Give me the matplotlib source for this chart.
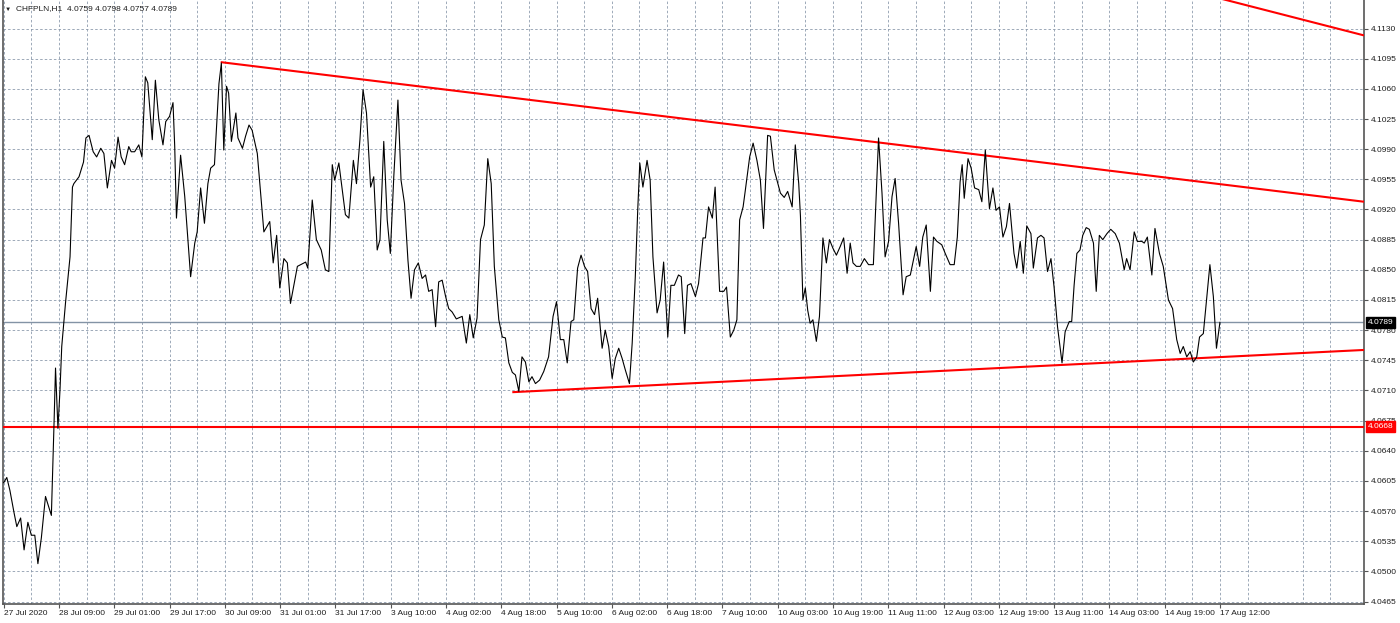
import matplotlib
matplotlib.use("Agg")
import matplotlib.pyplot as plt
import matplotlib.transforms as mtransforms

plt.rcParams["font.family"] = ["Liberation Sans", "DejaVu Sans"]

symbol = "CHFPLN,H1"
last_ohlc = [4.0759, 4.0798, 4.0757, 4.0789]

# bar index (H1 bars from 27 Jul 17:00) and close price
bars = [
    0.0, 0.9, 1.8, 3.0, 3.8, 4.9, 5.9, 7.0, 8.0, 9.0,
    9.9, 10.9, 12.1, 13.8, 14.6, 15.0, 15.7, 16.3, 16.8, 17.9,
    19.2, 19.9, 20.3, 21.8, 23.1, 23.8, 24.7, 25.9, 26.9, 28.1,
    29.0, 30.0, 31.2, 32.1, 33.1, 34.0, 35.0, 36.2, 36.9, 37.9,
    39.1, 40.0, 41.0, 41.7, 43.0, 43.9, 44.9, 46.1, 46.9, 48.0,
    49.0, 49.5, 50.0, 51.2, 52.4, 54.1, 55.3, 56.0, 57.0, 58.1,
    59.1, 59.9, 61.0, 62.3, 63.0, 63.7, 64.5, 65.1, 65.9, 67.2,
    67.8, 69.1, 70.0, 71.0, 71.9, 73.4, 75.3, 77.0, 78.0, 79.0,
    79.9, 81.1, 82.1, 83.0, 85.0, 87.4, 88.0, 89.3, 90.5, 91.9,
    93.1, 94.1, 95.1, 95.8, 97.0, 98.9, 99.9, 101.2, 102.1, 103.1,
    104.0, 105.0, 106.2, 107.1, 108.1, 108.9, 110.0, 111.0, 111.9, 112.9,
    114.1, 115.0, 116.0, 117.0, 117.9, 118.9, 120.0, 121.1, 122.1, 123.0,
    124.0, 125.0, 125.9, 126.9, 127.9, 128.8, 129.8, 131.0, 132.7, 133.9,
    134.9, 135.9, 137.0, 138.0, 139.1, 140.1, 141.1, 142.0, 143.3, 144.3,
    145.2, 146.2, 147.2, 148.1, 149.1, 150.0, 151.0, 152.0, 152.9, 153.9,
    155.1, 156.3, 157.7, 159.0, 160.0, 161.1, 162.1, 163.1, 164.2, 165.0,
    166.1, 167.1, 168.1, 169.0, 170.0, 171.0, 171.9, 173.2, 174.1, 175.1,
    176.1, 177.0, 178.0, 179.0, 179.9, 181.1, 181.9, 182.8, 183.5, 184.1,
    185.0, 186.2, 187.1, 187.9, 189.1, 190.0, 191.0, 192.2, 193.1, 194.1,
    195.3, 196.1, 197.1, 197.9, 198.9, 200.2, 201.1, 202.4, 203.1, 204.0,
    205.1, 205.9, 207.2, 208.4, 209.2, 210.3, 211.3, 212.2, 213.0, 214.0,
    214.6, 215.9, 216.9, 218.0, 219.0, 219.9, 221.1, 221.9, 223.0, 224.8,
    225.9, 226.9, 228.2, 229.1, 230.1, 230.6, 231.3, 232.0, 232.7, 233.4,
    234.2, 235.2, 236.1, 237.1, 238.1, 239.0, 240.0, 241.0, 242.1, 243.1,
    244.1, 245.0, 245.8, 246.8, 247.9, 249.1, 250.3, 251.7, 253.2, 254.2,
    255.1, 256.1, 257.1, 258.0, 259.0, 260.3, 261.2, 262.4, 264.1, 265.1,
    266.0, 267.0, 268.2, 269.1, 270.1, 271.5, 272.5, 273.9, 275.1, 276.0,
    276.8, 277.4, 278.0, 279.1, 280.0, 281.0, 282.2, 283.1, 284.1, 284.7,
    285.3, 286.3, 287.2, 288.2, 289.2, 290.2, 291.1, 291.8, 292.4, 293.2,
    294.2, 295.1, 296.1, 297.3, 298.0, 299.2, 300.2, 301.1, 302.1, 303.1,
    304.0, 305.0, 306.3, 307.2, 308.4, 309.1, 309.8, 310.6, 311.5, 312.3,
    313.3, 314.2, 315.4, 316.2, 317.1, 318.1, 319.3, 320.4, 321.7, 322.9,
    324.3, 325.0, 326.0, 327.2, 328.1, 329.4, 330.1, 331.0, 332.3, 333.2,
    334.5, 335.6, 337.1, 338.3, 339.5, 340.5, 341.4, 342.4, 343.4, 344.3,
    345.3, 346.1, 347.2, 349.1, 350.1, 351.0, 352.0,
]
closes = [
    4.0603, 4.0609, 4.0594, 4.0568, 4.0552, 4.0562, 4.0525, 4.0557, 4.0542, 4.0542,
    4.0509, 4.0539, 4.0587, 4.0565, 4.0676, 4.0736, 4.0666, 4.0711, 4.0761, 4.0812,
    4.0865, 4.0946, 4.0950, 4.0958, 4.0975, 4.1003, 4.1006, 4.0987, 4.0981, 4.0991,
    4.0985, 4.0945, 4.0977, 4.0968, 4.1004, 4.0981, 4.0972, 4.0993, 4.0987, 4.0987,
    4.0995, 4.0981, 4.1074, 4.1067, 4.1001, 4.1070, 4.1024, 4.0995, 4.1022, 4.1028,
    4.1044, 4.0993, 4.0910, 4.0983, 4.0935, 4.0842, 4.0881, 4.0894, 4.0945, 4.0904,
    4.0950, 4.0968, 4.0972, 4.1066, 4.1090, 4.0989, 4.1063, 4.1055, 4.0999, 4.1032,
    4.1003, 4.0991, 4.1005, 4.1018, 4.1012, 4.0985, 4.0894, 4.0906, 4.0858, 4.0890,
    4.0829, 4.0863, 4.0858, 4.0811, 4.0854, 4.0859, 4.0852, 4.0931, 4.0885, 4.0873,
    4.0850, 4.0848, 4.0972, 4.0954, 4.0974, 4.0914, 4.0910, 4.0977, 4.0950, 4.1001,
    4.1059, 4.1032, 4.0946, 4.0958, 4.0873, 4.0885, 4.0999, 4.0908, 4.0869, 4.0958,
    4.1047, 4.0954, 4.0927, 4.0861, 4.0817, 4.0850, 4.0858, 4.0840, 4.0844, 4.0825,
    4.0827, 4.0784, 4.0836, 4.0838, 4.0819, 4.0805, 4.0801, 4.0793, 4.0796, 4.0765,
    4.0798, 4.0771, 4.0794, 4.0885, 4.0902, 4.0979, 4.0950, 4.0854, 4.0792, 4.0772,
    4.0771, 4.0742, 4.0731, 4.0728, 4.0709, 4.0749, 4.0743, 4.0720, 4.0726, 4.0718,
    4.0722, 4.0732, 4.0749, 4.0796, 4.0813, 4.0769, 4.0769, 4.0742, 4.0790, 4.0792,
    4.0852, 4.0867, 4.0854, 4.0848, 4.0805, 4.0798, 4.0817, 4.0759, 4.0780, 4.0761,
    4.0724, 4.0747, 4.0759, 4.0747, 4.0734, 4.0718, 4.0765, 4.0842, 4.0919, 4.0974,
    4.0946, 4.0977, 4.0954, 4.0865, 4.0800, 4.0815, 4.0859, 4.0772, 4.0832, 4.0832,
    4.0844, 4.0842, 4.0776, 4.0832, 4.0834, 4.0819, 4.0834, 4.0887, 4.0887, 4.0923,
    4.0910, 4.0946, 4.0825, 4.0825, 4.0830, 4.0772, 4.0780, 4.0792, 4.0908, 4.0923,
    4.0941, 4.0981, 4.0997, 4.0977, 4.0954, 4.0898, 4.1006, 4.1005, 4.0966, 4.0939,
    4.0934, 4.0941, 4.0923, 4.0995, 4.0950, 4.0912, 4.0815, 4.0829, 4.0803, 4.0788,
    4.0792, 4.0767, 4.0796, 4.0887, 4.0858, 4.0885, 4.0875, 4.0867, 4.0877, 4.0887,
    4.0846, 4.0881, 4.0858, 4.0854, 4.0854, 4.0863, 4.0856, 4.0856, 4.1003, 4.0939,
    4.0865, 4.0883, 4.0935, 4.0956, 4.0904, 4.0821, 4.0842, 4.0844, 4.0877, 4.0854,
    4.0888, 4.0902, 4.0825, 4.0888, 4.0883, 4.0879, 4.0869, 4.0856, 4.0856, 4.0888,
    4.0952, 4.0972, 4.0933, 4.0979, 4.0968, 4.0945, 4.0943, 4.0929, 4.0989, 4.0954,
    4.0921, 4.0945, 4.0919, 4.0923, 4.0888, 4.0900, 4.0927, 4.0896, 4.0869, 4.0852,
    4.0883, 4.0846, 4.0901, 4.0892, 4.0852, 4.0887, 4.0890, 4.0887, 4.0848, 4.0863,
    4.0830, 4.0784, 4.0742, 4.0778, 4.0790, 4.0790, 4.0832, 4.0869, 4.0873, 4.0890,
    4.0899, 4.0897, 4.0881, 4.0825, 4.0890, 4.0885, 4.0892, 4.0897, 4.0892, 4.0881,
    4.0850, 4.0863, 4.0850, 4.0894, 4.0883, 4.0883, 4.0881, 4.0888, 4.0844, 4.0898,
    4.0869, 4.0854, 4.0815, 4.0805, 4.0769, 4.0753, 4.0761, 4.0749, 4.0755, 4.0743,
    4.0749, 4.0772, 4.0776, 4.0856, 4.0819, 4.0759, 4.0789,
]

time_labels = [
    "27 Jul 2020", "28 Jul 09:00", "29 Jul 01:00", "29 Jul 17:00", "30 Jul 09:00",
    "31 Jul 01:00", "31 Jul 17:00", "3 Aug 10:00", "4 Aug 02:00", "4 Aug 18:00",
    "5 Aug 10:00", "6 Aug 02:00", "6 Aug 18:00", "7 Aug 10:00", "10 Aug 03:00",
    "10 Aug 19:00", "11 Aug 11:00", "12 Aug 03:00", "12 Aug 19:00", "13 Aug 11:00",
    "14 Aug 03:00", "14 Aug 19:00", "17 Aug 12:00",
]
bars_per_label = 16

price_labels = [
    "4.1130", "4.1095", "4.1060", "4.1025", "4.0990", "4.0955", "4.0920",
    "4.0885", "4.0850", "4.0815", "4.0780", "4.0745", "4.0710", "4.0675",
    "4.0640", "4.0605", "4.0570", "4.0535", "4.0500", "4.0465",
]

# trend lines: (bar, price) anchors
upper_trend = [(62.8, 4.1091), (393.7, 4.0929)]
lower_trend = [(147.2, 4.0708), (393.7, 4.0757)]
outer_trend = [(350.0, 4.1167), (393.7, 4.1122)]
support_level = 4.0668

grid_col = "#8d9bad"
fs = 6.0

fig = plt.figure(figsize=(14, 6.23), dpi=100)
ax = fig.add_axes([3 / 1400, 19 / 623, 1361 / 1400, 604 / 623])
ax.set_xlim(-0.2, 393.7)
ax.set_ylim(4.04622, 4.11631)

# grid
xt = [i * bars_per_label for i in range(len(time_labels))]
ax.set_xticks(xt)
ax.set_xticklabels(time_labels)
ax.set_xticks([t + bars_per_label / 2 for t in xt] + [xt[-1] + 24, xt[-1] + 32], minor=True)
yt = [float(p) for p in price_labels]
ax.set_yticks(yt)
ax.set_yticklabels(price_labels)
ax.grid(True, which="both", color=grid_col, linestyle=(0, (3, 2.5)), linewidth=0.6)
ax.set_axisbelow(True)

ax.yaxis.tick_right()
ax.tick_params(axis="y", which="major", length=3, width=0.8, pad=2,
               labelsize=fs, color="#555555", labelcolor="#1e1e1e")
ax.tick_params(axis="x", which="major", length=3, width=0.8, pad=1.5,
               labelsize=fs, color="#555555", labelcolor="#1e1e1e")
ax.tick_params(axis="x", which="minor", length=0)
for lab in ax.get_xticklabels():
    lab.set_horizontalalignment("left")

for side in ["left", "right", "bottom"]:
    ax.spines[side].set_color("#555555")
    ax.spines[side].set_linewidth(1.2)
ax.spines["top"].set_visible(False)

# bid line and support level
ax.axhline(closes[-1], color="#8393a5", linewidth=1.0, zorder=2)
ax.axhline(support_level, color="#ff0000", linewidth=1.5, zorder=3)

# trend lines
for line in [upper_trend, lower_trend, outer_trend]:
    ax.plot([line[0][0], line[1][0]], [line[0][1], line[1][1]],
            color="#ff0000", linewidth=1.5, zorder=3, solid_capstyle="butt")

# price line
ax.plot(bars, closes, color="black", linewidth=0.8, zorder=4)

# price labels on axis
tr = mtransforms.blended_transform_factory(ax.transAxes, ax.transData)
ax.text(1.0 + 4 / 1361, closes[-1], "%.4f" % closes[-1], transform=tr,
        ha="left", va="center", fontsize=fs, color="white", zorder=10,
        clip_on=False, bbox=dict(facecolor="black", edgecolor="black", pad=1.3))
ax.text(1.0 + 4 / 1361, support_level, "%.4f" % support_level, transform=tr,
        ha="left", va="center", fontsize=fs, color="white", zorder=10,
        clip_on=False, bbox=dict(facecolor="#ff0000", edgecolor="#ff0000", pad=1.3))

# header
fig.text(5 / 1400, 1 - 9 / 623, "\u25bc", fontsize=4.5, color="#1e1e1e", va="center")
fig.text(16 / 1400, 1 - 9 / 623,
         symbol + "  " + " ".join("%.4f" % v for v in last_ohlc),
         fontsize=fs, color="#1e1e1e", va="center")

fig.savefig("out.png", dpi=100, facecolor="white")
